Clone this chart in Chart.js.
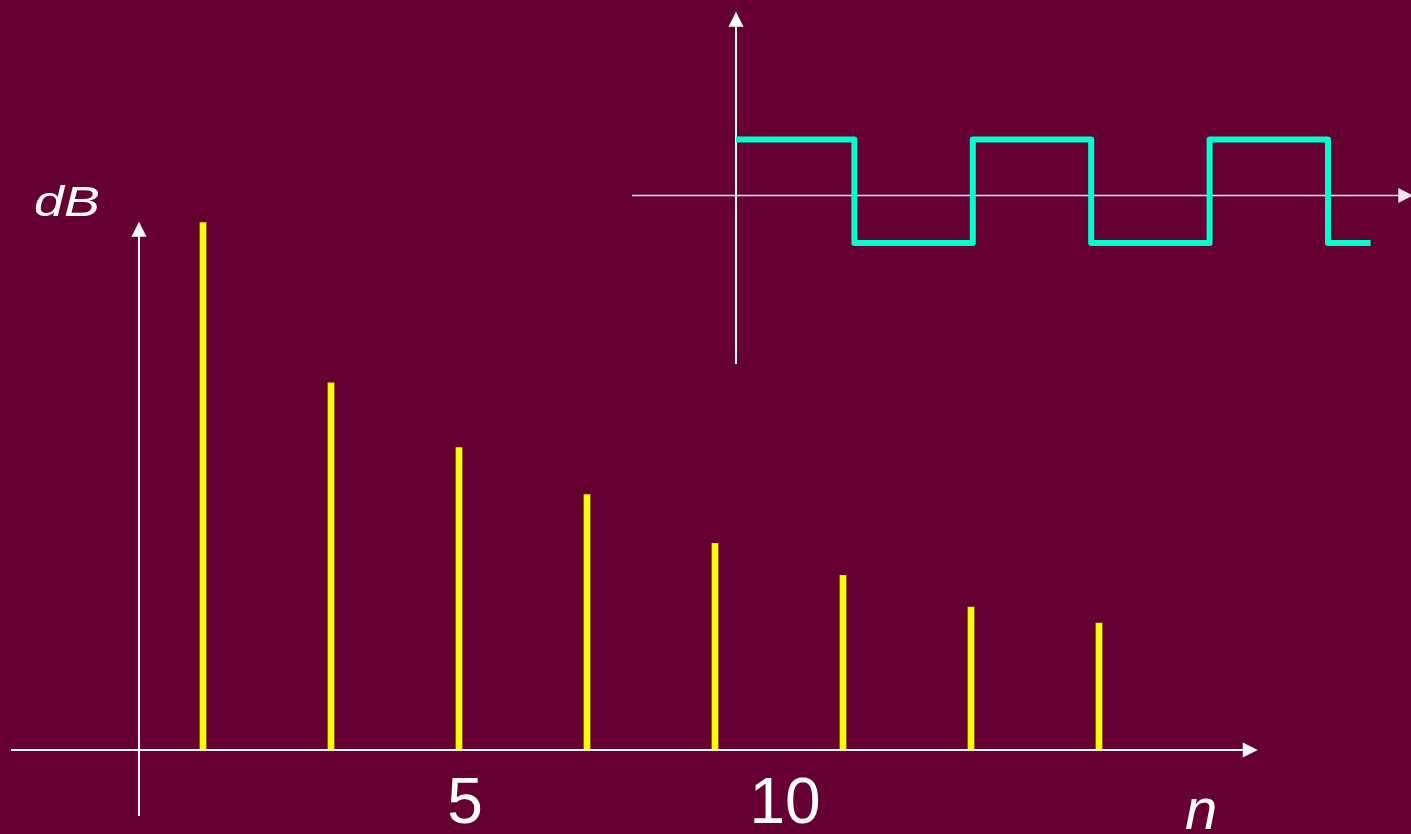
<!DOCTYPE html>
<html>
<head>
<meta charset="utf-8">
<title>Square wave spectrum</title>
<script src="https://cdn.jsdelivr.net/npm/chart.js@4/dist/chart.umd.min.js"></script>
<style>
    html, body { margin: 0; padding: 0; background: #660033; overflow: hidden; }
    #spectrumChart { display: block; }
</style>
</head>
<body>
<canvas id="spectrumChart" width="1411" height="834"></canvas>
<script>
// ============================================
// DATA
// ============================================

// harmonic numbers (odd only) and their level in dB
const harmonics = [1, 3, 5, 7, 9, 11, 13, 15];
const levelsDb = [31.4, 21.85, 18.0, 15.2, 12.3, 10.4, 8.5, 7.55];

// tick labels on the n axis
const tickValues = [5, 10];
const tickLabels = ['5', '10'];

// square wave (inset): switching times and levels
const waveTimes = [0, 1, 2, 3, 4, 5, 5.36];
const waveLevels = [1, -0.85, 1, -0.85, 1, -0.85, -0.85];

// ============================================
// COLORS
// ============================================
const BAR_COLOR = '#FFFF00';
const WAVE_COLOR = '#00FFCC';
const AXIS_COLOR = '#FFFFFF';
const FONT = '"Liberation Sans", Arial, sans-serif';

// ============================================
// AXES + TEXT PLUGIN
// ============================================
function arrowLine(ctx, x1, y1, x2, y2, width, color) {
    const ang = Math.atan2(y2 - y1, x2 - x1);
    const len = 15, half = 7.5;
    const bx = x2 - Math.cos(ang) * len;
    const by = y2 - Math.sin(ang) * len;
    ctx.strokeStyle = color;
    ctx.fillStyle = color;
    ctx.lineWidth = width;
    ctx.beginPath();
    ctx.moveTo(x1, y1);
    ctx.lineTo(bx, by);
    ctx.stroke();
    ctx.beginPath();
    ctx.moveTo(x2, y2);
    ctx.lineTo(bx - Math.sin(ang) * half, by + Math.cos(ang) * half);
    ctx.lineTo(bx + Math.sin(ang) * half, by - Math.cos(ang) * half);
    ctx.closePath();
    ctx.fill();
}

const axesPlugin = {
    id: 'axesPlugin',
    beforeDatasetsDraw(chart) {
        const ctx = chart.ctx;
        const { x, y, x2, y2 } = chart.scales;
        ctx.save();
        // spectrum axes
        arrowLine(ctx, x.getPixelForValue(-2), y.getPixelForValue(0),
                  x.getPixelForValue(17.48), y.getPixelForValue(0), 2, AXIS_COLOR);
        arrowLine(ctx, x.getPixelForValue(0), y.getPixelForValue(-3.93),
                  x.getPixelForValue(0), y.getPixelForValue(31.45), 2, AXIS_COLOR);
        // inset axes
        arrowLine(ctx, x2.getPixelForValue(-0.878), y2.getPixelForValue(0),
                  x2.getPixelForValue(5.72), y2.getPixelForValue(0), 1.5, '#F2E6EC');
        arrowLine(ctx, x2.getPixelForValue(0), y2.getPixelForValue(-3.01),
                  x2.getPixelForValue(0), y2.getPixelForValue(3.28), 2, AXIS_COLOR);
        ctx.restore();
    },
    afterDraw(chart) {
        const ctx = chart.ctx;
        const { x } = chart.scales;
        ctx.save();
        ctx.fillStyle = AXIS_COLOR;
        ctx.textBaseline = 'alphabetic';

        // tick labels
        ctx.font = '64px ' + FONT;
        ctx.textAlign = 'center';
        tickValues.forEach((v, i) => {
            ctx.fillText(tickLabels[i], x.getPixelForValue(v) + 6, 823);
        });

        // n label
        ctx.font = 'italic 58px ' + FONT;
        ctx.textAlign = 'left';
        ctx.fillText('n', 1185, 829);

        // dB label (slightly stretched like the slide)
        ctx.font = 'italic 42px ' + FONT;
        ctx.translate(34, 216);
        ctx.scale(1.28, 1);
        ctx.fillText('dB', 0, 0);
        ctx.restore();
    }
};

// ============================================
// CHART
// ============================================
const ctx = document.getElementById('spectrumChart').getContext('2d');
new Chart(ctx, {
    type: 'bar',
    data: {
        datasets: [
            {
                type: 'bar',
                data: harmonics.map((n, i) => ({ x: n, y: levelsDb[i] })),
                backgroundColor: BAR_COLOR,
                borderWidth: 0,
                barThickness: 6,
                grouped: false, // otherwise the line dataset shifts bars by half a width
                xAxisID: 'x',
                yAxisID: 'y'
            },
            {
                type: 'line',
                data: waveTimes.map((t, i) => ({ x: t, y: waveLevels[i] })),
                borderColor: WAVE_COLOR,
                borderWidth: 6,
                borderJoinStyle: 'round',
                stepped: true,
                pointRadius: 0,
                fill: false,
                xAxisID: 'x2',
                yAxisID: 'y2'
            }
        ]
    },
    options: {
        responsive: false,
        animation: false,
        layout: { padding: 0 },
        plugins: {
            legend: { display: false },
            tooltip: { enabled: false }
        },
        scales: {
            x: { type: 'linear', display: false, offset: false, min: -139 / 64, max: (1411 - 139) / 64 },
            y: { type: 'linear', display: false, min: -84 / 16.8, max: 750 / 16.8 },
            x2: { type: 'linear', display: false, offset: false, min: -736 / 118.4, max: (1411 - 736) / 118.4 },
            y2: { type: 'linear', display: false, min: -(834 - 195.5) / 56, max: 195.5 / 56 }
        }
    },
    plugins: [axesPlugin]
});
</script>
</body>
</html>
